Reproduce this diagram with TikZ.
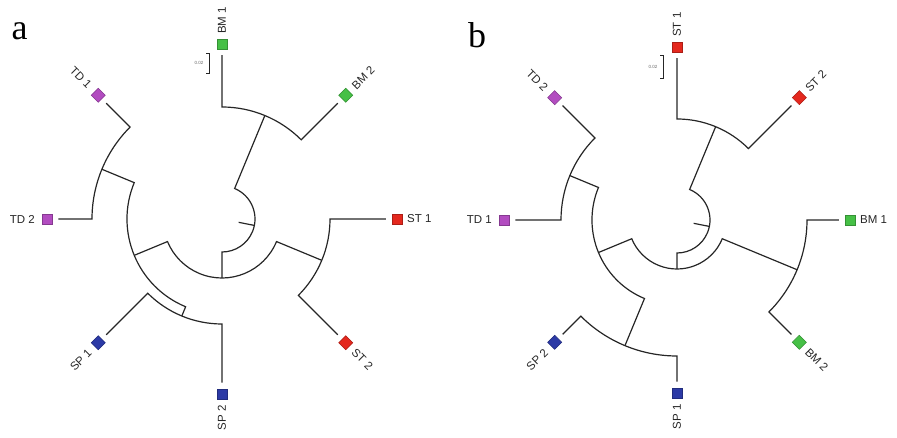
\documentclass[tikz,border=0pt]{standalone}
\usepackage{fontspec}
\setmainfont{Liberation Serif}
\setsansfont{Liberation Sans}
\usetikzlibrary{positioning}

\definecolor{bmgreen}{HTML}{46C046}
\definecolor{stred}{HTML}{E4281E}
\definecolor{spblue}{HTML}{2C3AA6}
\definecolor{tdpurple}{HTML}{B24CC0}

\begin{document}
\begin{tikzpicture}[
    x=1pt, y=1pt,
    % ====================
    % STYLES
    % ====================
    branch/.style={
        line width=1.2pt, draw=black!85
    },
    leafbranch/.style={
        branch, shorten <=6pt, shorten >=6pt
    },
    leafbox/.style={
        rectangle, minimum size=10pt, inner sep=0pt,
        fill=#1, draw=#1!75!black, line width=0.5pt
    },
    leafname/.style={
        font=\sffamily\fontsize{11.5}{13}\selectfont,
        text=black!85, inner sep=0pt
    },
    panel/.style={
        font=\fontsize{36}{40}\selectfont, inner sep=0pt, anchor=base
    },
    scalebar/.style={
        line width=0.9pt, draw=black!85
    },
    scalenum/.style={
        font=\sffamily\fontsize{4.5}{5}\selectfont, text=black!60, inner sep=0pt
    }
]

\useasboundingbox (0,0) rectangle (897,438);

% ====================
% PANEL LETTERS
% ====================
\node[panel] (tag-a) at (19.5,398) {a};
\node[panel] (tag-b) at (477,390) {b};

% ====================
% TREE a
% ====================
\begin{scope}[shift={(222,219)}]
    % Internal nodes
    \coordinate (a-stub) at (-11.25:17);
    \coordinate (a-root) at (-11.25:33);
    \coordinate (a-top0) at (67.5:33);
    \coordinate (a-top) at (67.5:112);
    \coordinate (a-low0) at (-90:33);
    \coordinate (a-low) at (-90:59);
    \coordinate (a-right0) at (-22.5:59);
    \coordinate (a-right) at (-22.5:108);
    \coordinate (a-left0) at (202.5:59);
    \coordinate (a-left) at (202.5:95);
    \coordinate (a-td0) at (157.5:95);
    \coordinate (a-td) at (157.5:130);
    \coordinate (a-sp0) at (247.5:95);
    \coordinate (a-sp) at (247.5:105);

    % Leaves
    \node[leafbox=bmgreen, rotate=90] (a-bm1) at (90:175) {};
    \node[leafbox=bmgreen, rotate=45] (a-bm2) at (45:175) {};
    \node[leafbox=stred] (a-st1) at (0:175) {};
    \node[leafbox=stred, rotate=-45] (a-st2) at (-45:175) {};
    \node[leafbox=spblue, rotate=-90] (a-sp2) at (-90:175) {};
    \node[leafbox=spblue, rotate=-135] (a-sp1) at (-135:175) {};
    \node[leafbox=tdpurple] (a-td2) at (180:175) {};
    \node[leafbox=tdpurple, rotate=135] (a-td1) at (135:175) {};

    % Leaf names
    \node[leafname, rotate=90, anchor=west] (a-bm1-name) at (90:185) {BM 1};
    \node[leafname, rotate=45, anchor=west] (a-bm2-name) at (45:186) {BM 2};
    \node[leafname, anchor=west] (a-st1-name) at (0:185) {ST 1};
    \node[leafname, rotate=-45, anchor=west] (a-st2-name) at (-45:186) {ST 2};
    \node[leafname, rotate=90, anchor=east] (a-sp2-name) at (-90:186) {SP 2};
    \node[leafname, rotate=45, anchor=east] (a-sp1-name) at (-135:187) {SP 1};
    \node[leafname, anchor=east] (a-td2-name) at (180:187) {TD 2};
    \node[leafname, rotate=-45, anchor=east] (a-td1-name) at (135:187) {TD 1};

    % Backbone
    \draw[branch] (a-stub) -- (a-root);
    \draw[branch] (a-top) -- (a-top0) arc[start angle=67.5, end angle=-90, radius=33pt] -- (a-low);
    \draw[branch] (a-right) -- (a-right0) arc[start angle=-22.5, end angle=-157.5, radius=59pt] -- (a-left);
    \draw[branch] (a-td) -- (a-td0) arc[start angle=157.5, end angle=247.5, radius=95pt] -- (a-sp);

    % Terminal pairs
    \draw[leafbranch] (a-bm1) -- (90:112) arc[start angle=90, end angle=45, radius=112pt] -- (a-bm2);
    \draw[leafbranch] (a-st1) -- (0:108) arc[start angle=0, end angle=-45, radius=108pt] -- (a-st2);
    \draw[leafbranch] (a-sp1) -- (225:105) arc[start angle=225, end angle=270, radius=105pt] -- (a-sp2);
    \draw[leafbranch] (a-td2) -- (180:130) arc[start angle=180, end angle=135, radius=130pt] -- (a-td1);

    % Scale bar
    \draw[scalebar] (-16,146) -- (-13,146) -- (-13,166) -- (-16,166);
    \node[scalenum] (a-scale) at (-23,156) {0.02};
\end{scope}

% ====================
% TREE b
% ====================
\begin{scope}[shift={(677,218)}]
    % Internal nodes
    \coordinate (b-stub) at (-11.25:17);
    \coordinate (b-root) at (-11.25:33);
    \coordinate (b-top0) at (67.5:33);
    \coordinate (b-top) at (67.5:101);
    \coordinate (b-low0) at (-90:33);
    \coordinate (b-low) at (-90:49);
    \coordinate (b-right0) at (-22.5:49);
    \coordinate (b-right) at (-22.5:130);
    \coordinate (b-left0) at (202.5:49);
    \coordinate (b-left) at (202.5:85);
    \coordinate (b-td0) at (157.5:85);
    \coordinate (b-td) at (157.5:116);
    \coordinate (b-sp0) at (247.5:85);
    \coordinate (b-sp) at (247.5:136);

    % Leaves
    \node[leafbox=stred, rotate=90] (b-st1) at (90:173) {};
    \node[leafbox=stred, rotate=45] (b-st2) at (45:173) {};
    \node[leafbox=bmgreen] (b-bm1) at (0:173) {};
    \node[leafbox=bmgreen, rotate=-45] (b-bm2) at (-45:173) {};
    \node[leafbox=spblue, rotate=-90] (b-sp1) at (-90:173) {};
    \node[leafbox=spblue, rotate=-135] (b-sp2) at (-135:173) {};
    \node[leafbox=tdpurple] (b-td1) at (180:173) {};
    \node[leafbox=tdpurple, rotate=135] (b-td2) at (135:173) {};

    % Leaf names
    \node[leafname, rotate=90, anchor=west] (b-st1-name) at (90:183) {ST 1};
    \node[leafname, rotate=45, anchor=west] (b-st2-name) at (45:184) {ST 2};
    \node[leafname, anchor=west] (b-bm1-name) at (0:183) {BM 1};
    \node[leafname, rotate=-45, anchor=west] (b-bm2-name) at (-45:184) {BM 2};
    \node[leafname, rotate=90, anchor=east] (b-sp1-name) at (-90:184) {SP 1};
    \node[leafname, rotate=45, anchor=east] (b-sp2-name) at (-135:185) {SP 2};
    \node[leafname, anchor=east] (b-td1-name) at (180:185) {TD 1};
    \node[leafname, rotate=-45, anchor=east] (b-td2-name) at (135:185) {TD 2};

    % Backbone
    \draw[branch] (b-stub) -- (b-root);
    \draw[branch] (b-top) -- (b-top0) arc[start angle=67.5, end angle=-90, radius=33pt] -- (b-low);
    \draw[branch] (b-right) -- (b-right0) arc[start angle=-22.5, end angle=-157.5, radius=49pt] -- (b-left);
    \draw[branch] (b-td) -- (b-td0) arc[start angle=157.5, end angle=247.5, radius=85pt] -- (b-sp);

    % Terminal pairs
    \draw[leafbranch] (b-st1) -- (90:101) arc[start angle=90, end angle=45, radius=101pt] -- (b-st2);
    \draw[leafbranch] (b-bm1) -- (0:130) arc[start angle=0, end angle=-45, radius=130pt] -- (b-bm2);
    \draw[leafbranch] (b-sp2) -- (225:136) arc[start angle=225, end angle=270, radius=136pt] -- (b-sp1);
    \draw[leafbranch] (b-td1) -- (180:116) arc[start angle=180, end angle=135, radius=116pt] -- (b-td2);

    % Scale bar
    \draw[scalebar] (-17,142) -- (-14,142) -- (-14,165) -- (-17,165);
    \node[scalenum] (b-scale) at (-24,153) {0.02};
\end{scope}

\end{tikzpicture}
\end{document}
